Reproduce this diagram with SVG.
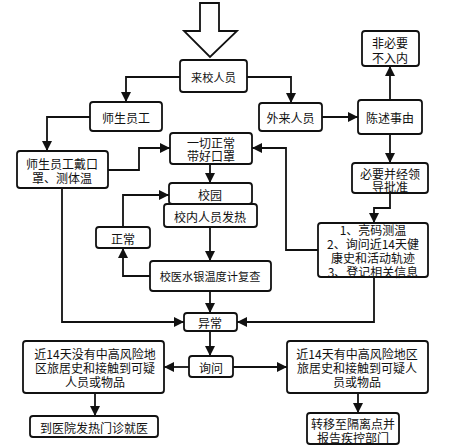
<svg xmlns="http://www.w3.org/2000/svg" width="469" height="448" viewBox="0 0 469 448">
<style>
.box{fill:#fff;stroke:#111;stroke-width:1.8}
.t{font-family:"Noto Sans CJK SC","Noto Sans",sans-serif;font-size:12px;fill:#111;text-anchor:middle;dominant-baseline:central}
.s{font-size:11.2px}
.c{fill:none;stroke:#111;stroke-width:1.8}
</style>
<defs>
<marker id="ah" markerUnits="userSpaceOnUse" markerWidth="11" markerHeight="10" refX="10" refY="5" orient="auto">
<path d="M0,0 L10,5 L0,10 Z" fill="#111"/>
</marker>
</defs>
<rect width="469" height="448" fill="#fff"/>
<g id="connectors">
<polygon points="200,3 219,3 219,31 237,31 210,57 184,31 200,31" fill="#fff" stroke="#111" stroke-width="1.8"/>
<path class="c" d="M180,77 H126 V102" marker-end="url(#ah)"/>
<path class="c" d="M247,77 H291 V103" marker-end="url(#ah)"/>
<path class="c" d="M322,117 H358" marker-end="url(#ah)"/>
<path class="c" d="M390,100 V66" marker-end="url(#ah)"/>
<path class="c" d="M90,117 H47 V151" marker-end="url(#ah)"/>
<path class="c" d="M108,170 H139 V148 H170" marker-end="url(#ah)"/>
<path class="c" d="M318,250 H286 V148 H252" marker-end="url(#ah)"/>
<path class="c" d="M390,134 V163" marker-end="url(#ah)"/>
<path class="c" d="M390,193 V208 H374 V223" marker-end="url(#ah)"/>
<path class="c" d="M210,164 V183" marker-end="url(#ah)"/>
<path class="c" d="M210,227 V261" marker-end="url(#ah)"/>
<path class="c" d="M150,276 H123 V248" marker-end="url(#ah)"/>
<path class="c" d="M123,227 V195 H169" marker-end="url(#ah)"/>
<path class="c" d="M62,188 V322 H184" marker-end="url(#ah)"/>
<path class="c" d="M210,291 V313" marker-end="url(#ah)"/>
<path class="c" d="M374,277 V322 H237" marker-end="url(#ah)"/>
<path class="c" d="M210,331 V356" marker-end="url(#ah)"/>
<path class="c" d="M189,367 H164" marker-end="url(#ah)"/>
<path class="c" d="M233,367 H287" marker-end="url(#ah)"/>
<path class="c" d="M95,393 V416" marker-end="url(#ah)"/>
<path class="c" d="M358,393 V413" marker-end="url(#ah)"/>
</g>
<g id="n-laixiao"><rect class="box" x="180" y="60" width="67" height="32" rx="3"/><text class="t s" x="213.5" y="77">来校人员</text></g>
<g id="n-shisheng"><rect class="box" x="90" y="102" width="72" height="29" rx="3"/><text class="t" x="126" y="117">师生员工</text></g>
<g id="n-wailai"><rect class="box" x="259" y="103" width="63" height="28" rx="3"/><text class="t" x="290.5" y="117">外来人员</text></g>
<g id="n-chenshu"><rect class="box" x="358" y="100" width="64" height="34" rx="3"/><text class="t" x="390" y="117">陈述事由</text></g>
<g id="n-feibiyao"><rect class="box" x="362" y="31" width="57" height="35" rx="3"/><text class="t" x="390" y="42"><tspan x="390" y="42">非必要</tspan><tspan x="390" y="57">不入内</tspan></text></g>
<g id="n-daikouzhao"><rect class="box" x="17" y="151" width="91" height="37" rx="3"/><text class="t"><tspan x="62" y="163">师生员工戴口</tspan><tspan x="62" y="177">罩、测体温</tspan></text></g>
<g id="n-yiqie"><rect class="box" x="170" y="133" width="82" height="31" rx="3"/><text class="t"><tspan x="211" y="142">一切正常</tspan><tspan x="211" y="155">带好口罩</tspan></text></g>
<g id="n-biyao"><rect class="box" x="352" y="163" width="76" height="30" rx="3"/><text class="t"><tspan x="390" y="173">必要并经领</tspan><tspan x="390" y="186">导批准</tspan></text></g>
<g id="n-xiaoyuan"><rect class="box" x="169" y="183" width="83" height="21" rx="3"/><text class="t" x="210" y="194">校园</text></g>
<g id="n-fare"><rect class="box" x="164" y="204" width="93" height="23" rx="3"/><text class="t" x="210" y="216">校内人员发热</text></g>
<g id="n-zhengchang"><rect class="box" x="96" y="227" width="54" height="21" rx="3"/><text class="t" x="123" y="238">正常</text></g>
<g id="n-fucha"><rect class="box" x="150" y="261" width="121" height="30" rx="3"/><text class="t s" x="210" y="276">校医水银温度计复查</text></g>
<g id="n-steps"><rect class="box" x="318" y="223" width="110" height="54" rx="3"/><text class="t"><tspan x="373" y="229">1、亮码测温</tspan><tspan x="373" y="243">2、询问近14天健</tspan><tspan x="373" y="257">康史和活动轨迹</tspan><tspan x="373" y="271">3、登记相关信息</tspan></text></g>
<g id="n-yichang"><rect class="box" x="184" y="313" width="53" height="18" rx="3"/><text class="t" x="210" y="322">异常</text></g>
<g id="n-xunwen"><rect class="box" x="189" y="356" width="44" height="21" rx="3"/><text class="t" x="211" y="367">询问</text></g>
<g id="n-meiyou"><rect class="box" x="23" y="341" width="141" height="52" rx="3"/><text class="t"><tspan x="95" y="353">近14天没有中高风险地</tspan><tspan x="95" y="367">区旅居史和接触到可疑</tspan><tspan x="95" y="381">人员或物品</tspan></text></g>
<g id="n-you"><rect class="box" x="287" y="341" width="141" height="52" rx="3"/><text class="t"><tspan x="357" y="353">近14天有中高风险地区</tspan><tspan x="357" y="367">旅居史和接触到可疑人</tspan><tspan x="357" y="381">员或物品</tspan></text></g>
<g id="n-yiyuan"><rect class="box" x="30" y="416" width="128" height="21" rx="3"/><text class="t" x="94" y="427">到医院发热门诊就医</text></g>
<g id="n-zhuanyi"><rect class="box" x="307" y="413" width="92" height="31" rx="3"/><text class="t"><tspan x="353" y="423">转移至隔离点并</tspan><tspan x="353" y="437">报告疾控部门</tspan></text></g>
</svg>
